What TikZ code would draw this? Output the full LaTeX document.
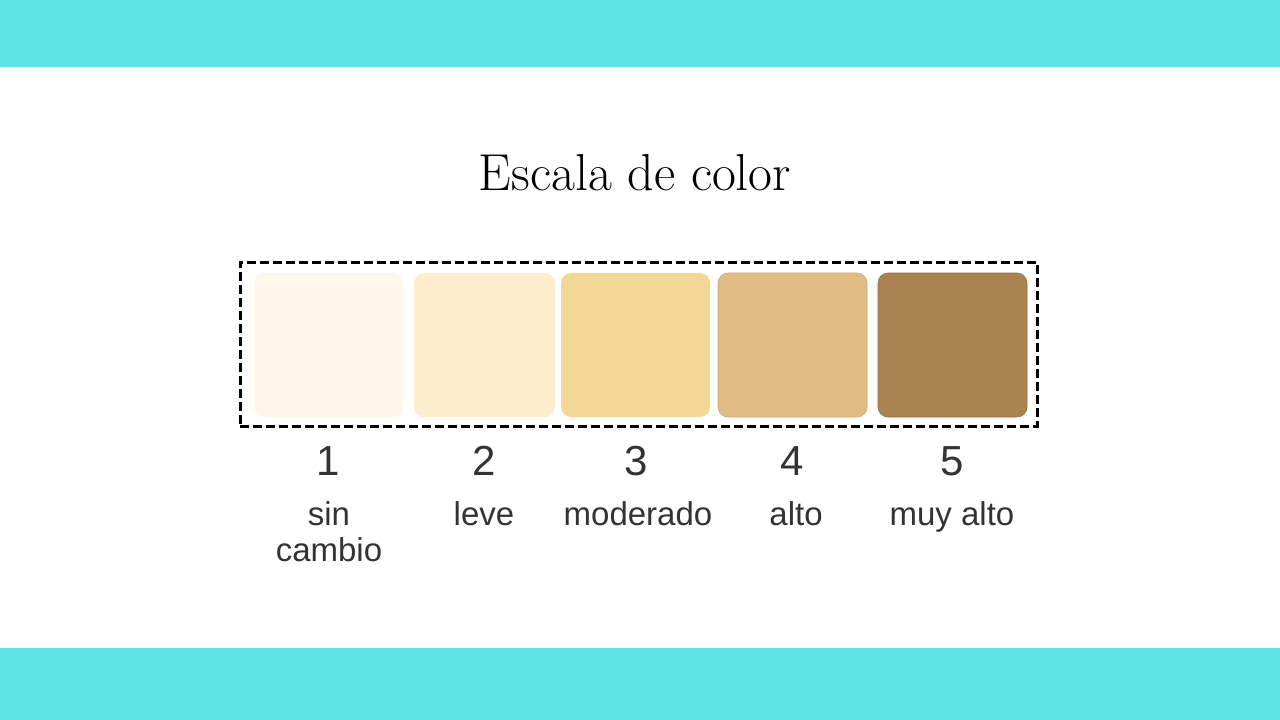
\documentclass[tikz,border=0pt]{standalone}
\usepackage{fontspec}
\newfontfamily\labfont{Liberation Sans}
\definecolor{band}{HTML}{5EE2E6}
\definecolor{txt}{HTML}{333333}
\definecolor{c1}{HTML}{FEF7EA}
\definecolor{c2}{HTML}{FDEDCC}
\definecolor{c3}{HTML}{F3D794}
\definecolor{c4}{HTML}{E2BA84}
\definecolor{c5}{HTML}{AB8353}
\begin{document}
\begin{tikzpicture}[x=1pt,y=-1pt,
  swatch/.style={rounded corners=10pt, minimum height=144pt, inner sep=0pt, draw=none},
  num/.style={font=\labfont\fontsize{42}{46}\selectfont, text=txt, anchor=base, inner sep=0pt},
  lab/.style={font=\labfont\fontsize{33}{36}\selectfont, text=txt, anchor=base, align=center, inner sep=0pt}]
\useasboundingbox (0,0) rectangle (1280,720);
\fill[band] (0,0) rectangle (1280,67);
\fill[band] (0,648) rectangle (1280,720);
\node[font=\fontsize{52}{58}\selectfont, anchor=base, inner sep=0pt] (title) at (635,190) {Escala de color};
\node[swatch, fill=c1, minimum width=149pt] (s1) at (328.5,345) {};
\node[swatch, fill=c2, minimum width=141pt] (s2) at (484.5,345) {};
\node[swatch, fill=c3, minimum width=149pt] (s3) at (635.5,345) {};
\node[swatch, fill=c4, minimum width=149pt, draw=c4!90!black, line width=0.6pt] (s4) at (792.5,345) {};
\node[swatch, fill=c5, minimum width=149pt, draw=c5!85!black, line width=0.6pt] (s5) at (952.5,345) {};
\node[draw=black, line width=3pt, dash pattern=on 9pt off 4pt, minimum width=797pt, minimum height=164pt, inner sep=0pt] (frame) at (638.5,344) {};
\node[num] (n1) at (328,475) {1};
\node[num] (n2) at (484,475) {2};
\node[num] (n3) at (636,475) {3};
\node[num] (n4) at (792,475) {4};
\node[num] (n5) at (952,475) {5};
\node[lab] (l1) at (329,561) {sin\\cambio};
\node[lab] (l2) at (484,525) {leve};
\node[lab] (l3) at (638,525) {moderado};
\node[lab] (l4) at (796,525) {alto};
\node[lab] (l5) at (952,525) {muy alto};
\end{tikzpicture}
\end{document}
